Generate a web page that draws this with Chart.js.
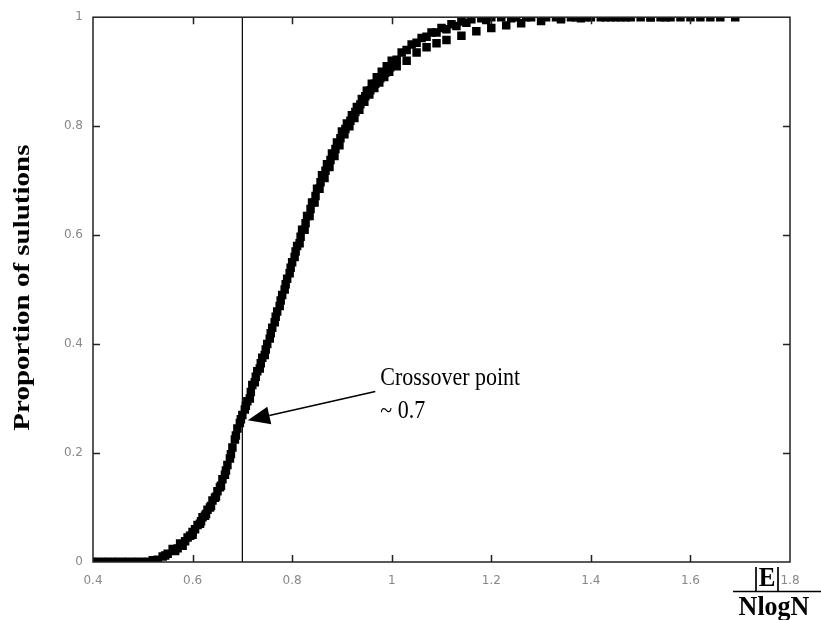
<!DOCTYPE html>
<html>
<head>
<meta charset="utf-8">
<script src="https://cdn.jsdelivr.net/npm/chart.js@4.4.1/dist/chart.umd.min.js"></script>
<style>
  body { margin: 0; background: #fff; }
  #wrap { width: 821px; height: 620px; }
</style>
</head>
<body>
<div id="wrap"><canvas id="c" width="821" height="620"></canvas></div>
<script>
// tick labels
const xTicks = [0.4, 0.6, 0.8, 1, 1.2, 1.4, 1.6, 1.8];
const yTicks = [0, 0.2, 0.4, 0.6, 0.8, 1];

// run 1 (left / upper edge of the band)
const run1X = [0.40, 0.42, 0.44, 0.46, 0.48, 0.50, 0.52, 0.54, 0.56, 0.575, 0.59, 0.60, 0.61, 0.62, 0.63, 0.64,
  0.65, 0.66, 0.67, 0.68, 0.69, 0.70, 0.71, 0.72, 0.73, 0.74, 0.75, 0.76, 0.77, 0.78, 0.79, 0.80,
  0.81, 0.82, 0.83, 0.84, 0.85, 0.86, 0.87, 0.88, 0.89, 0.90, 0.91, 0.92, 0.93, 0.94, 0.95, 0.96,
  0.97, 0.98, 0.99, 1.00, 1.02, 1.04, 1.06, 1.08, 1.10, 1.12, 1.14, 1.16, 1.18, 1.20, 1.22, 1.25,
  1.28, 1.31, 1.34, 1.37, 1.40, 1.43, 1.46, 1.50, 1.54, 1.58, 1.62, 1.66];
const run1Y = [0, 0, 0, 0, 0, 0, 0.003, 0.01, 0.024, 0.034, 0.045, 0.055, 0.068, 0.082, 0.096, 0.113,
  0.13, 0.152, 0.178, 0.21, 0.245, 0.27, 0.295, 0.325, 0.35, 0.375, 0.40, 0.43, 0.46, 0.49, 0.52, 0.55,
  0.58, 0.61, 0.635, 0.66, 0.685, 0.71, 0.73, 0.75, 0.77, 0.79, 0.805, 0.82, 0.835, 0.85, 0.865, 0.878,
  0.89, 0.90, 0.91, 0.92, 0.935, 0.95, 0.962, 0.972, 0.98, 0.987, 0.992, 0.996, 0.998, 1, 1, 1,
  1, 1, 1, 1, 1, 1, 1, 1, 1, 1, 1, 1];

// run 2 (right / lower edge of the band)
const run2X = [0.41, 0.43, 0.45, 0.47, 0.49, 0.51, 0.53, 0.55, 0.57, 0.585, 0.60, 0.615, 0.625, 0.635, 0.645, 0.655,
  0.665, 0.675, 0.685, 0.695, 0.705, 0.715, 0.725, 0.735, 0.745, 0.755, 0.765, 0.775, 0.785, 0.795, 0.805, 0.815,
  0.825, 0.835, 0.845, 0.855, 0.865, 0.875, 0.885, 0.895, 0.905, 0.915, 0.925, 0.935, 0.945, 0.955, 0.965, 0.975,
  0.985, 0.995, 1.01, 1.03, 1.05, 1.07, 1.09, 1.11, 1.14, 1.17, 1.20, 1.23, 1.26, 1.30, 1.34, 1.38,
  1.42, 1.45, 1.48, 1.52, 1.56, 1.60, 1.64, 1.69];
const run2Y = [0, 0, 0, 0, 0, 0, 0.004, 0.015, 0.025, 0.038, 0.05, 0.07, 0.085, 0.10, 0.118, 0.137,
  0.16, 0.19, 0.225, 0.255, 0.28, 0.30, 0.33, 0.355, 0.38, 0.41, 0.44, 0.47, 0.50, 0.53, 0.56, 0.585,
  0.61, 0.635, 0.66, 0.685, 0.705, 0.725, 0.745, 0.765, 0.785, 0.80, 0.815, 0.83, 0.845, 0.858, 0.87, 0.88,
  0.89, 0.90, 0.91, 0.92, 0.935, 0.945, 0.952, 0.958, 0.966, 0.974, 0.98, 0.985, 0.989, 0.993, 0.996, 0.998,
  1, 1, 1, 1, 1, 1, 1, 1];

// run 3 (middle of the band)
const run3X = [0.405, 0.425, 0.445, 0.465, 0.485, 0.505, 0.525, 0.545, 0.565, 0.58, 0.595, 0.605, 0.617, 0.627, 0.637, 0.647,
  0.657, 0.667, 0.677, 0.687, 0.697, 0.707, 0.717, 0.727, 0.737, 0.747, 0.757, 0.767, 0.777, 0.787, 0.797, 0.807,
  0.817, 0.827, 0.837, 0.847, 0.857, 0.867, 0.877, 0.887, 0.897, 0.907, 0.917, 0.927, 0.937, 0.947, 0.957, 0.967,
  0.977, 0.987, 0.997, 1.01, 1.03, 1.05, 1.07, 1.09, 1.11, 1.13, 1.15, 1.19, 1.24, 1.27, 1.33, 1.36,
  1.39, 1.44, 1.47, 1.52, 1.55];
const run3Y = [0, 0, 0, 0, 0, 0, 0.002, 0.012, 0.02, 0.03, 0.048, 0.06, 0.075, 0.088, 0.103, 0.12,
  0.14, 0.168, 0.198, 0.232, 0.262, 0.287, 0.312, 0.34, 0.365, 0.39, 0.42, 0.45, 0.48, 0.51, 0.54, 0.57,
  0.597, 0.622, 0.648, 0.672, 0.697, 0.718, 0.738, 0.758, 0.778, 0.795, 0.81, 0.826, 0.84, 0.855, 0.866, 0.878,
  0.888, 0.898, 0.908, 0.922, 0.94, 0.953, 0.964, 0.972, 0.978, 0.984, 0.99, 0.995, 0.998, 1, 1, 1,
  1, 1, 1, 1, 1];

const crossoverX = 0.7;
// annotation anchors in data units: [tipX, tipY, tailX, tailY]
const arrowPts = [0.711, 0.26, 0.967, 0.313];
const noteLines = ['Crossover point', '~ 0.7'];
const yTitle = 'Proportion of sulutions';

const serif = '"Liberation Serif", "Times New Roman", serif';

function pts(xs, ys) {
  return xs.map((x, i) => ({ x: x, y: ys[i] }));
}

// the source picture is stretched vertically, so the texts are too
function tallText(ctx, txt, x, y, sy) {
  ctx.save();
  ctx.translate(x, y);
  ctx.scale(1, sy);
  ctx.fillText(txt, 0, 0);
  ctx.restore();
}

const frameAndNotes = {
  id: 'frameAndNotes',
  afterDraw(chart) {
    const ctx = chart.ctx;
    const a = chart.chartArea;
    const xs = chart.scales.x, ys = chart.scales.y;
    ctx.save();
    // box
    ctx.strokeStyle = '#222';
    ctx.lineWidth = 1.5;
    ctx.strokeRect(a.left, a.top, a.right - a.left, a.bottom - a.top);
    // inward ticks on all sides
    ctx.beginPath();
    xTicks.slice(1, -1).forEach(v => {
      const p = Math.round(xs.getPixelForValue(v)) + 0.5;
      ctx.moveTo(p, a.bottom); ctx.lineTo(p, a.bottom - 7);
      ctx.moveTo(p, a.top); ctx.lineTo(p, a.top + 7);
    });
    yTicks.slice(1, -1).forEach(v => {
      const p = Math.round(ys.getPixelForValue(v)) + 0.5;
      ctx.moveTo(a.left, p); ctx.lineTo(a.left + 7, p);
      ctx.moveTo(a.right, p); ctx.lineTo(a.right - 7, p);
    });
    ctx.stroke();

    // arrow
    const tx = xs.getPixelForValue(arrowPts[0]), ty = ys.getPixelForValue(arrowPts[1]);
    const sx = xs.getPixelForValue(arrowPts[2]), sy = ys.getPixelForValue(arrowPts[3]);
    const ang = Math.atan2(ty - sy, tx - sx);
    const hl = 22, hw = 9;
    const bx = tx - hl * Math.cos(ang), by = ty - hl * Math.sin(ang);
    ctx.strokeStyle = '#000';
    ctx.lineWidth = 1.6;
    ctx.beginPath();
    ctx.moveTo(sx, sy); ctx.lineTo(bx, by);
    ctx.stroke();
    ctx.fillStyle = '#000';
    ctx.beginPath();
    ctx.moveTo(tx, ty);
    ctx.lineTo(bx + hw * Math.sin(ang), by - hw * Math.cos(ang));
    ctx.lineTo(bx - hw * Math.sin(ang), by + hw * Math.cos(ang));
    ctx.closePath();
    ctx.fill();

    // note text
    ctx.font = '22px ' + serif;
    ctx.textBaseline = 'alphabetic';
    ctx.textAlign = 'left';
    tallText(ctx, noteLines[0], sx + 5, sy - 6, 1.15);
    tallText(ctx, noteLines[1], sx + 5, sy + 27, 1.15);

    // y title, rotated and stretched along its length
    ctx.save();
    ctx.font = 'bold 23px ' + serif;
    ctx.textAlign = 'center';
    ctx.textBaseline = 'middle';
    ctx.translate(23, (a.top + a.bottom) / 2 - 2);
    ctx.rotate(-Math.PI / 2);
    ctx.scale(1.26, 1);
    ctx.fillText(yTitle, 0, 0);
    ctx.restore();

    // x axis title: |E| over NlogN
    ctx.font = 'bold 25px ' + serif;
    ctx.textAlign = 'center';
    tallText(ctx, '|E|', 767, 586, 1.1);
    ctx.font = 'bold 26px ' + serif;
    tallText(ctx, 'NlogN', 774, 615, 1.05);
    ctx.lineWidth = 1.5;
    ctx.beginPath();
    ctx.moveTo(733, 591.5); ctx.lineTo(821, 591.5);
    ctx.stroke();
    ctx.restore();
  }
};

const tickFont = { family: '"DejaVu Sans", sans-serif', size: 12 };

function runSet(xs, ys, order) {
  return {
    data: pts(xs, ys),
    pointStyle: 'rect',
    pointRadius: 6,
    backgroundColor: '#000',
    borderColor: '#000',
    borderWidth: 0,
    order: order
  };
}

new Chart(document.getElementById('c'), {
  type: 'scatter',
  data: {
    datasets: [
      {
        type: 'line',
        data: [{ x: crossoverX, y: 0 }, { x: crossoverX, y: 1 }],
        borderColor: '#000',
        borderWidth: 1.2,
        pointRadius: 0,
        order: 4
      },
      runSet(run1X, run1Y, 1),
      runSet(run2X, run2Y, 2),
      runSet(run3X, run3Y, 3)
    ]
  },
  options: {
    responsive: false,
    animation: false,
    layout: { padding: { top: 15, right: 31, left: 0, bottom: 0 } },
    plugins: { legend: { display: false }, tooltip: { enabled: false } },
    scales: {
      x: {
        type: 'linear',
        min: 0.4,
        max: 1.8,
        grid: { display: false, drawTicks: false },
        border: { display: false },
        afterBuildTicks: s => { s.ticks = xTicks.map(v => ({ value: v })); },
        afterFit: s => { s.height = 58; },
        ticks: {
          font: tickFont,
          color: '#888',
          padding: 12,
          maxRotation: 0,
          callback: v => String(+v.toFixed(1))
        }
      },
      y: {
        min: 0,
        max: 1,
        grid: { display: false, drawTicks: false },
        border: { display: false },
        afterBuildTicks: s => { s.ticks = yTicks.map(v => ({ value: v })); },
        afterFit: s => { s.width = 93; },
        ticks: {
          font: tickFont,
          color: '#888',
          padding: 10,
          callback: v => String(+v.toFixed(1))
        }
      }
    }
  },
  plugins: [frameAndNotes]
});
</script>
</body>
</html>
